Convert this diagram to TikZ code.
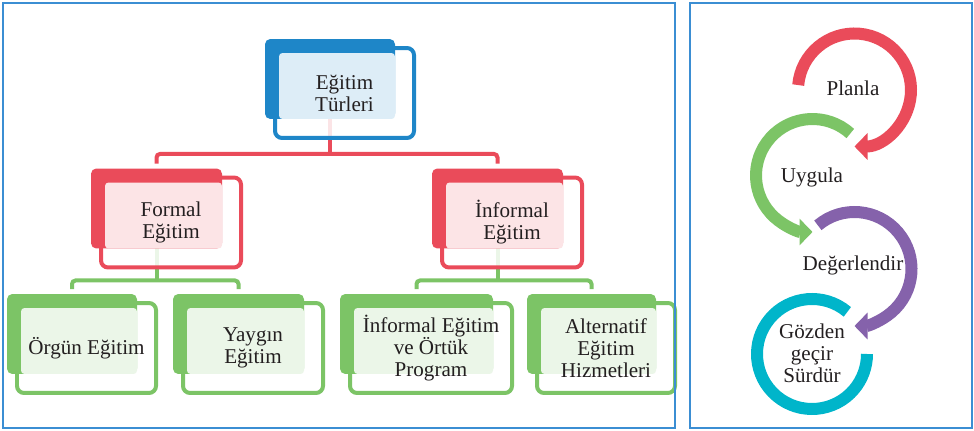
\documentclass[tikz,border=0pt]{standalone}
\usepackage{fontspec}
\setmainfont{Liberation Serif}
\usepackage{tikz}
\usetikzlibrary{arrows.meta,calc}

\definecolor{tblue}{HTML}{1E86C8}
\definecolor{tred}{HTML}{EA4B5A}
\definecolor{tgreen}{HTML}{7CC466}
\definecolor{tpurple}{HTML}{8562AB}
\definecolor{tcyan}{HTML}{00B5CA}
\definecolor{frameblue}{HTML}{3B8ED3}
\definecolor{txtgray}{HTML}{231F20}

\pgfdeclarelayer{links}
\pgfdeclarelayer{boxes}
\pgfdeclarelayer{shades}
\pgfsetlayers{links,boxes,shades,main}

\tikzset{
  boxtext/.style={inner sep=0pt, outer sep=0pt, minimum height=1.8cm, align=center,
    font=\fontsize{12}{12.5}\selectfont, text=txtgray},
  boxline/.style={line width=0.08cm, rounded corners=4pt, fill=white, fill opacity=0.85},
  treelink/.style={line width=0.08cm, draw=#1, rounded corners=2pt},
  cyclearc/.style={line width=0.24cm, draw=#1},
  cyclelabel/.style={align=center, font=\fontsize{12}{12.5}\selectfont, text=txtgray},
  frame/.style={line width=0.05cm, draw=frameblue},
}

% name, position, width (px), colour, text
\newcommand\edubox[5]{%
  \node[boxtext, minimum width=#3*0.02cm] (#1) at #2 {#5};
  \begin{pgfonlayer}{boxes}
    \draw[boxline, draw=#4] (#1.north west) rectangle (#1.south east);
  \end{pgfonlayer}
  \begin{pgfonlayer}{shades}
    \fill[#4, rounded corners=3pt] ($(#1.north west)+(-10,-9)$) rectangle ($(#1.south east)+(-19,-19)$);
    \fill[#4!15, rounded corners=2pt] ($(#1.north west)+(4,5)$) rectangle ($(#1.south east)+(-19,-19)$);
  \end{pgfonlayer}
  \coordinate (#1-top) at ($(#1.north)+(-14.5,-9)$);
  \coordinate (#1-bot) at ($(#1.south)+(-14.5,-19)$);
}

\begin{document}
\begin{tikzpicture}[x=0.02cm, y=-0.02cm]
\useasboundingbox (0,0) rectangle (974,431);

\draw[frame] (3,3) rectangle (675,428);
\draw[frame] (690,3) rectangle (972,428);

\edubox{turler}{(344.5,93)}{139}{tblue}{Eğitim\\Türleri}
\edubox{formal}{(171,222.5)}{140}{tred}{Formal\\Eğitim}
\edubox{informal}{(512,222.5)}{140}{tred}{İnformal\\Eğitim}
\edubox{orgun}{(86.5,348)}{139}{tgreen}{Örgün Eğitim}
\edubox{yaygin}{(253,348)}{140}{tgreen}{Yaygın\\Eğitim}
\edubox{ortuk}{(431,348)}{162}{tgreen}{İnformal Eğitim\\ve Örtük\\Program}
\edubox{alternatif}{(606,348)}{138}{tgreen}{Alternatif\\Eğitim\\Hizmetleri}

\begin{pgfonlayer}{links}
\draw[treelink=tred] (turler-bot) -- ++(0,35) coordinate (bus1);
\draw[treelink=tred] ($(formal-top)+(0,-5)$) |- (bus1) -| ($(informal-top)+(0,-5)$);
\draw[treelink=tgreen] (formal-bot) -- ++(0,32) coordinate (bus2);
\draw[treelink=tgreen] ($(orgun-top)+(0,-5)$) |- (bus2) -| ($(yaygin-top)+(0,-5)$);
\draw[treelink=tgreen] (informal-bot) -- ++(0,32) coordinate (bus3);
\draw[treelink=tgreen] ($(ortuk-top)+(0,-5)$) |- (bus3) -| ($(alternatif-top)+(0,-5)$);
\end{pgfonlayer}

% cycle
\coordinate (c1) at (854.5,90);
\coordinate (c2) at (812.5,175.5);
\coordinate (c3) at (854.5,269);
\coordinate (c4) at (812,354);
\node[cyclelabel] (planla) at (853,88) {Planla};
\node[cyclelabel] (uygula) at (812,177) {Uygula};
\node[cyclelabel] (degerlendir) at (853,265) {Değerlendir};
\node[cyclelabel] (surdur) at (812,353) {Gözden\\geçir\\Sürdür};

\draw[cyclearc=tred, -{Triangle[width=0.52cm,length=0.26cm]}]
  (c1) ++(-175:56.5) arc[start angle=-175, end angle=90, radius=56.5];
\draw[cyclearc=tgreen, -{Triangle[width=0.52cm,length=0.26cm]}]
  (c2) ++(-48:56.5) arc[start angle=-48, end angle=-270, radius=56.5];
\draw[cyclearc=tpurple, -{Triangle[width=0.52cm,length=0.26cm]}]
  (c3) ++(-130:57) arc[start angle=-130, end angle=90, radius=57];
\draw[cyclearc=tcyan]
  (c4) ++(-50:55) arc[start angle=-50, end angle=-360, radius=55];
\end{tikzpicture}
\end{document}
